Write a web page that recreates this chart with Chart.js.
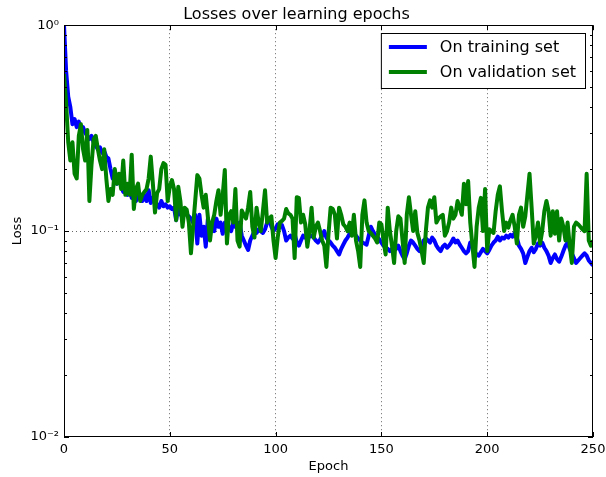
<!DOCTYPE html>
<html>
<head>
<meta charset="utf-8">
<script src="https://cdn.jsdelivr.net/npm/chart.js@4/dist/chart.umd.min.js"></script>
<style>
html, body { margin: 0; padding: 0; background: #fff; }
#chartBox { width: 606px; height: 477px; }
</style>
</head>
<body>
<div id="chartBox"><canvas id="lossChart"></canvas></div>
<script>
// loss per epoch, epochs 0..250
const trainLoss = [
    1.0, 0.6, 0.45, 0.40, 0.33, 0.35, 0.32, 0.34, 0.31, 0.32,
    0.30, 0.29, 0.28, 0.29, 0.27, 0.26, 0.25, 0.255, 0.24, 0.245,
    0.23, 0.225, 0.20, 0.18, 0.175, 0.17, 0.18, 0.165, 0.155, 0.165,
    0.15, 0.16, 0.145, 0.155, 0.14, 0.15, 0.145, 0.14, 0.15, 0.14,
    0.158, 0.137, 0.145, 0.14, 0.135, 0.13, 0.14, 0.132, 0.135, 0.13,
    0.132, 0.128, 0.13, 0.113, 0.13, 0.12, 0.125, 0.128, 0.12, 0.118,
    0.115, 0.11, 0.12, 0.087, 0.12, 0.095, 0.105, 0.084, 0.115, 0.1,
    0.11, 0.1, 0.115, 0.105, 0.11, 0.097, 0.11, 0.1, 0.105, 0.1,
    0.11, 0.105, 0.108, 0.11, 0.095, 0.09, 0.085, 0.081, 0.09, 0.095,
    0.1, 0.098, 0.102, 0.1, 0.098, 0.102, 0.11, 0.115, 0.105, 0.1,
    0.103, 0.108, 0.105, 0.107, 0.1, 0.09, 0.093, 0.095, 0.092, 0.097,
    0.088, 0.085, 0.09, 0.095, 0.093, 0.092, 0.094, 0.095, 0.093, 0.09,
    0.088, 0.091, 0.095, 0.1, 0.093, 0.09, 0.088, 0.085, 0.083, 0.08,
    0.077, 0.082, 0.086, 0.09, 0.093, 0.097, 0.1, 0.098, 0.095, 0.092,
    0.09, 0.088, 0.087, 0.086, 0.095, 0.105, 0.1, 0.096, 0.094, 0.091,
    0.088, 0.085, 0.083, 0.082, 0.08, 0.082, 0.084, 0.082, 0.085, 0.08,
    0.076, 0.073, 0.078, 0.085, 0.09, 0.088, 0.085, 0.082, 0.08, 0.084,
    0.09, 0.092, 0.09, 0.088, 0.093, 0.09, 0.085, 0.082, 0.08, 0.084,
    0.086, 0.083, 0.085, 0.088, 0.092, 0.088, 0.09, 0.086, 0.083, 0.08,
    0.078, 0.08, 0.088, 0.085, 0.08, 0.077, 0.076, 0.079, 0.082, 0.08,
    0.078, 0.081, 0.085, 0.088, 0.09, 0.094, 0.09, 0.093, 0.092, 0.095,
    0.093, 0.096, 0.094, 0.098, 0.093, 0.085, 0.082, 0.078, 0.07, 0.075,
    0.08, 0.083, 0.079, 0.082, 0.087, 0.085, 0.088, 0.083, 0.08, 0.076,
    0.07, 0.074, 0.077, 0.073, 0.071, 0.075, 0.08, 0.085, 0.088, 0.082,
    0.078, 0.074, 0.07, 0.072, 0.074, 0.076, 0.078, 0.076, 0.072, 0.07,
    0.068
];
const validLoss = [
    0.58, 0.42, 0.27, 0.22, 0.27, 0.19, 0.18, 0.29, 0.33, 0.25,
    0.22, 0.31, 0.14, 0.21, 0.28, 0.29, 0.25, 0.22, 0.20, 0.25,
    0.18, 0.14, 0.16, 0.15, 0.2, 0.17, 0.19, 0.16, 0.22, 0.15,
    0.17, 0.15, 0.235, 0.128, 0.16, 0.17, 0.14, 0.15, 0.155, 0.16,
    0.18, 0.23, 0.17, 0.123, 0.153, 0.16, 0.2, 0.214, 0.21, 0.14,
    0.164, 0.177, 0.16, 0.113, 0.164, 0.14, 0.105, 0.13, 0.127, 0.11,
    0.078, 0.105, 0.14, 0.187, 0.18, 0.15, 0.13, 0.15, 0.117, 0.09,
    0.11, 0.12, 0.14, 0.158, 0.12, 0.15, 0.198, 0.087, 0.12, 0.125,
    0.11, 0.16, 0.09, 0.084, 0.126, 0.12, 0.115, 0.13, 0.155, 0.105,
    0.093, 0.13, 0.11, 0.1, 0.125, 0.158, 0.11, 0.115, 0.118, 0.09,
    0.074, 0.093, 0.11, 0.112, 0.115, 0.128, 0.122, 0.12, 0.115, 0.074,
    0.146, 0.145, 0.11, 0.12, 0.108, 0.084, 0.1, 0.13, 0.093, 0.105,
    0.11, 0.1, 0.09, 0.085, 0.067, 0.097, 0.13, 0.128, 0.12, 0.092,
    0.13, 0.12, 0.108, 0.105, 0.1, 0.11, 0.095, 0.12, 0.09, 0.08,
    0.067, 0.12, 0.141, 0.11, 0.1, 0.098, 0.095, 0.092, 0.088, 0.11,
    0.108, 0.09, 0.077, 0.13, 0.1, 0.085, 0.07, 0.1, 0.118, 0.115,
    0.09, 0.07, 0.12, 0.146, 0.12, 0.1, 0.125, 0.098, 0.09, 0.08,
    0.07, 0.1, 0.13, 0.141, 0.13, 0.146, 0.11, 0.115, 0.118, 0.12,
    0.095, 0.1, 0.11, 0.13, 0.115, 0.12, 0.14, 0.13, 0.12, 0.17,
    0.135, 0.175, 0.11, 0.085, 0.067, 0.105, 0.13, 0.145, 0.1, 0.16,
    0.08, 0.102, 0.1, 0.098, 0.125, 0.15, 0.165, 0.125, 0.1, 0.11,
    0.104, 0.113, 0.12, 0.105, 0.087, 0.12, 0.13, 0.105, 0.118, 0.15,
    0.19, 0.13, 0.087, 0.095, 0.11, 0.087, 0.1, 0.125, 0.14, 0.125,
    0.095, 0.125, 0.097, 0.125, 0.09, 0.115, 0.105, 0.09, 0.11, 0.085,
    0.07, 0.105, 0.11, 0.108, 0.105, 0.102, 0.1, 0.19, 0.09, 0.085,
    0.09
];
const epochs = trainLoss.map((_, i) => i);

const seriesLabels = ['On training set', 'On validation set'];
const seriesColors = ['#0000ff', '#008000'];

const xTickValues = [0, 50, 100, 150, 200, 250];
const yTickValues = [0.01, 0.1, 1];
const yTickLabels = ['10\u207B\u00B2', '10\u207B\u00B9', '10\u2070'];

const FONT = "'DejaVu Sans', sans-serif";

/**
 * Frame, inward tick marks (with log minor ticks) and the boxed legend
 * in the upper right corner of the plot area.
 */
const axesDecor = {
    id: 'axesDecor',
    afterDraw(chart) {
        const { ctx, chartArea: a, scales: { x, y } } = chart;
        ctx.save();
        ctx.strokeStyle = '#000';
        ctx.lineWidth = 1;
        ctx.beginPath();
        xTickValues.forEach(v => {
            const px = Math.round(x.getPixelForValue(v)) + 0.5;
            ctx.moveTo(px, a.bottom); ctx.lineTo(px, a.bottom - 5);
            ctx.moveTo(px, a.top); ctx.lineTo(px, a.top + 5);
        });
        yTickValues.forEach(v => {
            const py = Math.round(y.getPixelForValue(v)) + 0.5;
            ctx.moveTo(a.left, py); ctx.lineTo(a.left + 5, py);
            ctx.moveTo(a.right, py); ctx.lineTo(a.right - 5, py);
        });
        [0.01, 0.1].forEach(decade => {
            for (let k = 2; k <= 9; k++) {
                const py = Math.round(y.getPixelForValue(decade * k)) + 0.5;
                ctx.moveTo(a.left, py); ctx.lineTo(a.left + 3, py);
                ctx.moveTo(a.right, py); ctx.lineTo(a.right - 3, py);
            }
        });
        ctx.stroke();
        ctx.strokeRect(Math.round(a.left) + 0.5, Math.round(a.top) + 0.5,
            Math.round(a.width) - 1, Math.round(a.height) - 1);

        // legend
        ctx.font = '16px ' + FONT;
        const textW = Math.max(...seriesLabels.map(t => ctx.measureText(t).width));
        const boxRight = Math.round(a.right) - 8;
        const boxTop = Math.round(a.top) + 8;
        const textX = boxRight - 9 - textW;
        const lineEnd = textX - 13;
        const lineStart = lineEnd - 38;
        const boxLeft = lineStart - 8;
        const boxH = 55;
        ctx.fillStyle = '#fff';
        ctx.fillRect(boxLeft, boxTop, boxRight - boxLeft, boxH);
        ctx.strokeRect(boxLeft + 0.5, boxTop + 0.5, boxRight - boxLeft, boxH);
        ctx.textBaseline = 'middle';
        seriesLabels.forEach((label, i) => {
            const rowY = boxTop + 14 + i * 25;
            ctx.strokeStyle = seriesColors[i];
            ctx.lineWidth = 4;
            ctx.beginPath();
            ctx.moveTo(lineStart, rowY);
            ctx.lineTo(lineEnd, rowY);
            ctx.stroke();
            ctx.fillStyle = '#000';
            ctx.fillText(label, textX, rowY + 1);
        });
        ctx.restore();
    }
};

const gridDots = 'rgba(0,0,0,0.6)';

new Chart(document.getElementById('lossChart'), {
    type: 'line',
    data: {
        datasets: [{
            label: seriesLabels[0],
            data: epochs.map((e, i) => ({ x: e, y: trainLoss[i] })),
            borderColor: seriesColors[0],
            borderWidth: 4,
            borderJoinStyle: 'round',
            pointRadius: 0,
            tension: 0,
            fill: false,
            order: 2
        }, {
            label: seriesLabels[1],
            data: epochs.map((e, i) => ({ x: e, y: validLoss[i] })),
            borderColor: seriesColors[1],
            borderWidth: 4,
            borderJoinStyle: 'round',
            pointRadius: 0,
            tension: 0,
            fill: false,
            order: 1
        }]
    },
    options: {
        responsive: true,
        maintainAspectRatio: false,
        animation: false,
        layout: { padding: { left: 0, right: 13, top: 0, bottom: 0 } },
        plugins: {
            legend: { display: false },
            tooltip: { enabled: false },
            title: {
                display: true,
                text: 'Losses over learning epochs',
                color: '#000',
                font: { family: FONT, size: 16, weight: 'normal' },
                padding: { top: 5, bottom: 1 }
            }
        },
        scales: {
            x: {
                type: 'linear',
                min: 0,
                max: 250,
                afterBuildTicks: scale => { scale.ticks = xTickValues.map(v => ({ value: v })); },
                afterFit: scale => {
                    scale.height = 40;
                    scale.paddingLeft = 0;
                    scale.paddingRight = 0;
                },
                ticks: {
                    color: '#000',
                    font: { family: FONT, size: 13 },
                    padding: 5,
                    maxRotation: 0
                },
                grid: {
                    drawTicks: false,
                    lineWidth: 1,
                    color: c => (c.tick && c.tick.value > 0 && c.tick.value < 250) ? gridDots : 'rgba(0,0,0,0)'
                },
                border: { display: false, dash: [1, 3] },
                title: {
                    display: true,
                    text: 'Epoch',
                    color: '#000',
                    font: { family: FONT, size: 13 },
                    padding: { top: 0, bottom: 3 }
                }
            },
            y: {
                type: 'logarithmic',
                min: 0.01,
                max: 1,
                afterBuildTicks: scale => { scale.ticks = yTickValues.map(v => ({ value: v })); },
                afterFit: scale => {
                    scale.width = 64;
                    scale.paddingTop = 0;
                    scale.paddingBottom = 0;
                },
                ticks: {
                    color: '#000',
                    font: { family: FONT, size: 13 },
                    padding: 5,
                    callback: v => {
                        const idx = yTickValues.findIndex(t => Math.abs(t - v) < 1e-9);
                        return idx >= 0 ? yTickLabels[idx] : '';
                    }
                },
                grid: {
                    drawTicks: false,
                    lineWidth: 1,
                    color: c => (c.tick && Math.abs(c.tick.value - 0.1) < 1e-9) ? gridDots : 'rgba(0,0,0,0)'
                },
                border: { display: false, dash: [1, 3] },
                title: {
                    display: true,
                    text: 'Loss',
                    color: '#000',
                    font: { family: FONT, size: 13 },
                    padding: { top: 10, bottom: 0 }
                }
            }
        }
    },
    plugins: [axesDecor]
});
</script>
</body>
</html>
